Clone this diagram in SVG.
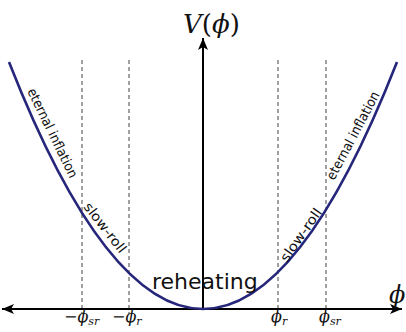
<svg xmlns="http://www.w3.org/2000/svg" width="406" height="332" viewBox="0 0 406 332">
<style>
.dash{stroke:#8a8a8a;stroke-width:1.6;stroke-dasharray:4,3;fill:none}
.axis{stroke:#000;stroke-width:2;fill:none}
.curve{stroke:#26267a;stroke-width:2.6;fill:none}
.lbl{font-family:"DejaVu Sans",Verdana,sans-serif;font-size:13.5px;fill:#111}
.math{font-family:"DejaVu Serif","Liberation Serif",serif;fill:#111}
.it{font-style:italic}
</style>
<defs>
<marker id="ah" markerWidth="14" markerHeight="10" refX="12" refY="5" orient="auto" markerUnits="userSpaceOnUse">
<path d="M0,0 L12,5 L0,10 L3,5 Z" fill="#000"/>
</marker>
</defs>
<g id="guides">
<line class="dash" x1="82" y1="60" x2="82" y2="314"/>
<line class="dash" x1="129" y1="60" x2="129" y2="314"/>
<line class="dash" x1="278" y1="60" x2="278" y2="314"/>
<line class="dash" x1="326" y1="60" x2="326" y2="314"/>
</g>
<g id="connectors">
<line class="axis" x1="203" y1="309" x2="402" y2="309" marker-end="url(#ah)"/>
<line class="axis" x1="203" y1="309" x2="2" y2="309" marker-end="url(#ah)"/>
<line class="axis" x1="203" y1="310" x2="203" y2="38" marker-end="url(#ah)"/>
</g>
<g id="potential">
<path class="curve" d="M9,62 Q203,556 397,62"/>
</g>
<g id="labels">
<text class="lbl" transform="translate(27,91) rotate(64)" textLength="98" lengthAdjust="spacingAndGlyphs">eternal inflation</text>
<text class="lbl" transform="translate(334,181) rotate(-62)" textLength="98" lengthAdjust="spacingAndGlyphs">eternal inflation</text>
<text class="lbl" transform="translate(83,207) rotate(52)" textLength="60" lengthAdjust="spacingAndGlyphs">slow-roll</text>
<text class="lbl" transform="translate(287,263) rotate(-55)" textLength="62" lengthAdjust="spacingAndGlyphs">slow-roll</text>
<text x="152" y="289" font-family="'DejaVu Sans',Verdana,sans-serif" font-size="22" fill="#111">reheating</text>
</g>
<g id="axis-labels">
<text class="math" x="183" y="33" font-size="26"><tspan class="it">V</tspan>(<tspan class="it">ϕ</tspan>)</text>
<text class="math it" x="389" y="303" font-size="24">ϕ</text>
<text class="math" x="64" y="322" font-size="16">−<tspan class="it">ϕ</tspan><tspan class="it" font-size="11" dy="3">sr</tspan></text>
<text class="math" x="112" y="322" font-size="16">−<tspan class="it">ϕ</tspan><tspan class="it" font-size="11" dy="3">r</tspan></text>
<text class="math" x="271" y="322" font-size="16"><tspan class="it">ϕ</tspan><tspan class="it" font-size="11" dy="3">r</tspan></text>
<text class="math" x="319" y="322" font-size="16"><tspan class="it">ϕ</tspan><tspan class="it" font-size="11" dy="3">sr</tspan></text>
</g>
</svg>
